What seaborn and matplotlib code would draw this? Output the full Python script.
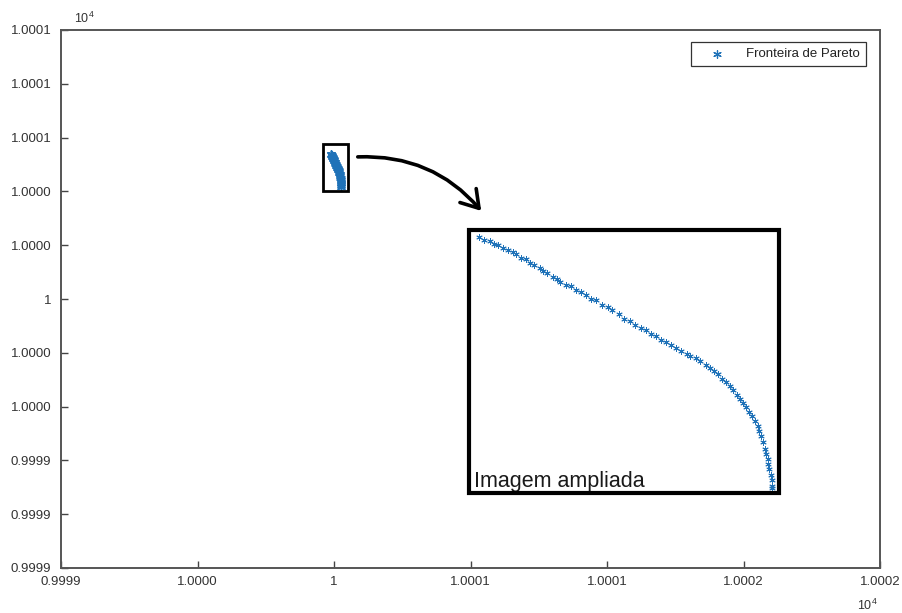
import matplotlib
matplotlib.use("Agg")
import matplotlib.pyplot as plt
import seaborn as sns
import pandas as pd
from matplotlib.patches import Rectangle, FancyArrowPatch

# ---------------- data ----------------
pareto_f1 = [9999.9881, 9999.9888, 9999.9896, 9999.9901, 9999.9906, 9999.9913, 9999.9919,
             9999.9925, 9999.9930, 9999.9936, 9999.9942, 9999.9948, 9999.9953, 9999.9960,
             9999.9965, 9999.9970, 9999.9977, 9999.9982, 9999.9987, 9999.9994, 10000.0001,
             10000.0007, 10000.0014, 10000.0020, 10000.0027, 10000.0033, 10000.0041, 10000.0048,
             10000.0054, 10000.0063, 10000.0069, 10000.0077, 10000.0083, 10000.0091, 10000.0097,
             10000.0104, 10000.0111, 10000.0117, 10000.0124, 10000.0130, 10000.0137, 10000.0143,
             10000.0150, 10000.0155, 10000.0162, 10000.0168, 10000.0175, 10000.0180, 10000.0185,
             10000.0191, 10000.0196, 10000.0201, 10000.0206, 10000.0210, 10000.0215, 10000.0219,
             10000.0223, 10000.0227, 10000.0231, 10000.0235, 10000.0239, 10000.0242, 10000.0244,
             10000.0247, 10000.0249, 10000.0252, 10000.0253, 10000.0255, 10000.0256, 10000.0257,
             10000.0259, 10000.0260, 10000.0260, 10000.0261]
pareto_f2 = [10000.5395, 10000.5380, 10000.5375, 10000.5360, 10000.5355, 10000.5340, 10000.5330,
             10000.5320, 10000.5310, 10000.5290, 10000.5285, 10000.5266, 10000.5256, 10000.5241,
             10000.5226, 10000.5216, 10000.5196, 10000.5186, 10000.5171, 10000.5156, 10000.5151,
             10000.5131, 10000.5121, 10000.5106, 10000.5091, 10000.5086, 10000.5061, 10000.5051,
             10000.5036, 10000.5017, 10000.4992, 10000.4982, 10000.4962, 10000.4947, 10000.4937,
             10000.4917, 10000.4907, 10000.4887, 10000.4877, 10000.4862, 10000.4847, 10000.4832,
             10000.4817, 10000.4807, 10000.4797, 10000.4782, 10000.4763, 10000.4748, 10000.4733,
             10000.4718, 10000.4698, 10000.4683, 10000.4663, 10000.4643, 10000.4618, 10000.4598,
             10000.4578, 10000.4558, 10000.4533, 10000.4514, 10000.4489, 10000.4464, 10000.4439,
             10000.4414, 10000.4384, 10000.4354, 10000.4329, 10000.4304, 10000.4280, 10000.4255,
             10000.4225, 10000.4200, 10000.4170, 10000.4160]

x_ticks = [9999.0, 9999.5, 10000.0, 10000.5, 10001.0, 10001.5, 10002.0]
x_tick_labels = ["0.9999", "1.0000", "1", "1.0001", "1.0001", "1.0002", "1.0002"]
y_ticks = [9999.0, 9999.2, 9999.4, 9999.6, 9999.8, 10000.0, 10000.2, 10000.4, 10000.6, 10000.8, 10001.0]
y_tick_labels = ["0.9999", "0.9999", "0.9999", "1.0000", "1.0000", "1",
                 "1.0000", "1.0000", "1.0001", "1.0001", "1.0001"]
series_label = "Fronteira de Pareto"
inset_label = "Imagem ampliada"
multiplier_label = "$10^4$"

# ---------------- style ----------------
sns.set_theme(style="white")
plt.rcParams["font.family"] = ["Liberation Sans", "DejaVu Sans"]
plt.rcParams["mathtext.fontset"] = "custom"
plt.rcParams["mathtext.rm"] = "Liberation Sans"
plt.rcParams["mathtext.default"] = "rm"

BLUE = "#1f72b8"
TXT = "#333333"
W, H = 902, 613

df = pd.DataFrame({"f1": pareto_f1, "f2": pareto_f2})

fig = plt.figure(figsize=(W / 100, H / 100), dpi=100)
fig.patch.set_facecolor("white")

# main axes
ax = fig.add_axes([61 / W, 1 - 568 / H, 819 / W, 538 / H])
sns.scatterplot(data=df, x="f1", y="f2", ax=ax, marker=(6, 2, 0), color=BLUE,
                edgecolor=BLUE, linewidth=0.9, s=30, label=series_label, zorder=4)
ax.set_xlim(x_ticks[0], x_ticks[-1])
ax.set_ylim(y_ticks[0], y_ticks[-1])
ax.set_xticks(x_ticks)
ax.set_xticklabels(x_tick_labels)
ax.set_yticks(y_ticks)
ax.set_yticklabels(y_tick_labels)
ax.set_xlabel("")
ax.set_ylabel("")
ax.tick_params(axis="both", direction="in", length=5, width=1, color="#444444",
               labelsize=9.5, labelcolor=TXT, bottom=True, left=True,
               top=False, right=False)
ax.tick_params(axis="x", pad=6)
ax.tick_params(axis="y", pad=7)
for sp in ax.spines.values():
    sp.set_visible(True)
    sp.set_color("#555555")
    sp.set_linewidth(1.4)

leg = ax.legend(loc="upper right", bbox_to_anchor=(866 / W, 1 - 42 / H),
                bbox_transform=fig.transFigure, borderaxespad=0, frameon=True,
                fancybox=False, edgecolor="black", fontsize=9.5, handlelength=3.0,
                handletextpad=0.75, borderpad=0.45, scatterpoints=1)
leg.get_frame().set_linewidth(0.9)
for t in leg.get_texts():
    t.set_color("#222222")

# rectangle around the cluster on the main axes
padx, pady = 0.027, 0.02
xmin, xmax = min(pareto_f1), max(pareto_f1)
ymin, ymax = min(pareto_f2), max(pareto_f2)
ax.add_patch(Rectangle((xmin - padx - 0.003, ymin - pady + 0.004), (xmax - xmin) + 2 * padx,
                       (ymax - ymin) + 2 * pady + 0.012, fill=False,
                       edgecolor="black", linewidth=2.0, zorder=5))

# multiplier texts
fig.text(74 / W, 1 - 23 / H, multiplier_label, fontsize=9, color=TXT)
fig.text(857 / W, 1 - 610 / H, multiplier_label, fontsize=9, color=TXT)

# curved arrow
arrow = FancyArrowPatch((355 / W, 1 - 157 / H), (483 / W, 1 - 213 / H),
                        transform=fig.transFigure, connectionstyle="arc3,rad=-0.25",
                        arrowstyle="->,head_length=0.55,head_width=0.35",
                        mutation_scale=22, linewidth=2.6, color="black")
fig.add_artist(arrow)

# inset (zoomed view)
axin = fig.add_axes([468.5 / W, 1 - 492.5 / H, 310 / W, 263 / H])
sns.scatterplot(data=df, x="f1", y="f2", ax=axin, marker=(6, 2, 0), color=BLUE,
                edgecolor=BLUE, linewidth=0.7, s=16, legend=False)
axin.set_xlim(xmin - 0.0013, xmax + 0.0008)
axin.set_ylim(ymin - 0.0022, ymax + 0.0035)
axin.set_xticks([])
axin.set_yticks([])
axin.set_xlabel("")
axin.set_ylabel("")
for sp in axin.spines.values():
    sp.set_visible(False)
axin.add_patch(Rectangle((0, 0), 1, 1, transform=axin.transAxes, fill=False,
                         edgecolor="black", linewidth=3.0, joinstyle="miter",
                         clip_on=False, zorder=6))
axin.text(0.018, 0.02, inset_label, transform=axin.transAxes, fontsize=15.5,
          color="#1a1a1a", ha="left", va="baseline")

fig.savefig("out.png", dpi=100, facecolor="white")
